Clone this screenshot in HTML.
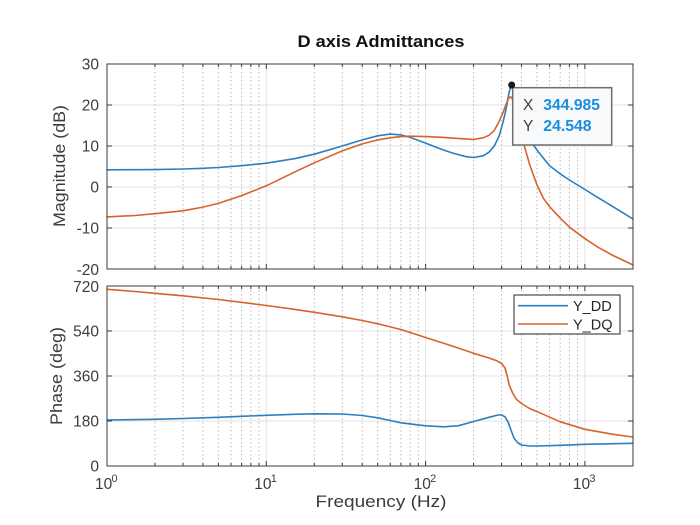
<!DOCTYPE html>
<html><head><meta charset="utf-8"><style>
html,body{margin:0;padding:0;background:#fff;}
svg{display:block;}
text{font-family:"Liberation Sans",Arial,sans-serif;}
</style></head><body>
<svg width="700" height="525" viewBox="0 0 700 525" xmlns="http://www.w3.org/2000/svg">
<rect width="700" height="525" fill="#fff"/>
<rect x="107" y="64" width="526" height="205" fill="#fff"/>
<rect x="107" y="286" width="526" height="180" fill="#fff"/>
<g stroke="#e2e2e2" stroke-width="1" fill="none">
<path d="M107 105H633M107 146H633M107 187H633M107 228H633"/>
<path d="M107 331H633M107 376H633M107 421H633"/>
<path d="M266.3 64V269M425.6 64V269M584.9 64V269M266.3 286V466M425.6 286V466M584.9 286V466"/>
</g>
<g stroke="#b9b9b9" stroke-width="1" stroke-dasharray="1.5 2.5" fill="none">
<path d="M154.95 64V269M183.01 64V269M202.91 64V269M218.35 64V269M230.96 64V269M241.62 64V269M250.86 64V269M259.01 64V269M314.25 64V269M342.31 64V269M362.21 64V269M377.65 64V269M390.26 64V269M400.92 64V269M410.16 64V269M418.31 64V269M473.55 64V269M501.61 64V269M521.51 64V269M536.95 64V269M549.56 64V269M560.22 64V269M569.46 64V269M577.61 64V269"/>
<path d="M154.95 286V466M183.01 286V466M202.91 286V466M218.35 286V466M230.96 286V466M241.62 286V466M250.86 286V466M259.01 286V466M314.25 286V466M342.31 286V466M362.21 286V466M377.65 286V466M390.26 286V466M400.92 286V466M410.16 286V466M418.31 286V466M473.55 286V466M501.61 286V466M521.51 286V466M536.95 286V466M549.56 286V466M560.22 286V466M569.46 286V466M577.61 286V466"/>
</g>
<g fill="none" stroke-width="1.6" stroke-linejoin="round" stroke-linecap="round">
<polyline stroke="#2b7fc1" points="107,169.8 135,169.7 155,169.6 183,169.0 202.9,168.3 218.3,167.5 241.6,165.7 266.3,163.2 294.3,158.7 314.3,154.2 342.3,146.0 362.2,139.9 377.7,135.8 390.3,134.1 400.9,134.9 410.1,137.4 425.6,143.1 443.8,150.1 453.7,153.4 466.2,156.7 473.6,157.5 483.2,155.8 489.0,152.2 494.3,146.0 499.2,135.8 503.2,121.4 506.1,109.1 508.6,94.8 510.3,87.8 511.3,86.5 512.7,89.4 518.0,109.1 524.9,127.6 532.7,143.9 537.0,150.1 543.5,158.3 549.6,165.7 560.3,173.9 569.5,180.0 577.6,185.0 585,189.5 597.5,197.3 613,206.7 623.6,213.2 632.9,219.0"/>
<polyline stroke="#d9622b" points="107,216.9 135,215.5 155,213.7 183,210.8 202.9,207.1 218.3,203.4 241.6,195.6 266.3,185.8 294.3,172.2 314.3,162.8 342.3,150.9 362.2,143.9 377.7,139.9 390.3,137.8 400.9,136.6 410.1,136.2 425.6,136.6 443.8,137.4 453.7,138.2 473.6,139.4 483.2,137.8 489.0,135.3 494.3,130.4 499.2,121.4 503.2,112.0 506.1,104.2 508.6,98.4 510.3,96.8 511.3,97.2 512.7,100.1 518.0,117.3 524.1,145.2 529.6,164.5 537.0,185.0 543.5,198.5 549.6,206.7 560.3,218.2 569.5,227.2 585,238.7 597.5,246.9 613,255.5 632.9,264.9"/>
<polyline stroke="#2b7fc1" points="107,420.0 155,419.3 183,418.5 218.3,417.3 241.6,416.3 266.3,415.3 294.3,414.3 314.3,413.8 342.3,414.0 362.2,415.5 377.7,417.8 390.3,420.5 400.9,422.8 425.6,425.8 443.8,426.8 458.1,425.8 473.6,421.5 489.0,417.3 498.1,415.0 501.6,415.0 505.0,416.8 508.2,422.3 511.3,431 514.2,438.5 518.0,443 521.5,445 529.6,446 537,446 560.3,445.3 585,444.3 632.9,443.3"/>
<polyline stroke="#d9622b" points="107,289.3 135,291.5 155,293.3 183,295.8 218.3,299.5 241.6,302.3 266.3,305.5 294.3,309.3 314.3,312.3 342.3,316.8 362.2,320.5 377.7,323.8 400.9,329.5 425.6,337.5 453.7,346.5 473.6,353.3 489.0,358 496.8,360.8 501.6,363.5 505.0,368 507.2,376 509.2,384.8 512.3,392.3 516.1,399 521.5,403.5 529.6,408.5 540.9,413.3 560.3,421.8 585,429.3 613,434.3 632.9,437"/>
</g>
<g stroke="#3a3a3a" stroke-width="1" fill="none">
<rect x="107" y="64" width="526" height="205"/>
<rect x="107" y="286" width="526" height="180"/>
<path d="M107 105h5M107 146h5M107 187h5M107 228h5M633 105h-5M633 146h-5M633 187h-5M633 228h-5"/>
<path d="M107 331h5M107 376h5M107 421h5M633 331h-5M633 376h-5M633 421h-5"/>
<path d="M266.3 269v-5M425.6 269v-5M584.9 269v-5M266.3 64v5M425.6 64v5M584.9 64v5M266.3 466v-5M425.6 466v-5M584.9 466v-5M266.3 286v5M425.6 286v5M584.9 286v5"/>
<path d="M154.95 269v-3M183.01 269v-3M202.91 269v-3M218.35 269v-3M230.96 269v-3M241.62 269v-3M250.86 269v-3M259.01 269v-3M314.25 269v-3M342.31 269v-3M362.21 269v-3M377.65 269v-3M390.26 269v-3M400.92 269v-3M410.16 269v-3M418.31 269v-3M473.55 269v-3M501.61 269v-3M521.51 269v-3M536.95 269v-3M549.56 269v-3M560.22 269v-3M569.46 269v-3M577.61 269v-3"/>
<path d="M154.95 64v3M183.01 64v3M202.91 64v3M218.35 64v3M230.96 64v3M241.62 64v3M250.86 64v3M259.01 64v3M314.25 64v3M342.31 64v3M362.21 64v3M377.65 64v3M390.26 64v3M400.92 64v3M410.16 64v3M418.31 64v3M473.55 64v3M501.61 64v3M521.51 64v3M536.95 64v3M549.56 64v3M560.22 64v3M569.46 64v3M577.61 64v3"/>
<path d="M154.95 466v-3M183.01 466v-3M202.91 466v-3M218.35 466v-3M230.96 466v-3M241.62 466v-3M250.86 466v-3M259.01 466v-3M314.25 466v-3M342.31 466v-3M362.21 466v-3M377.65 466v-3M390.26 466v-3M400.92 466v-3M410.16 466v-3M418.31 466v-3M473.55 466v-3M501.61 466v-3M521.51 466v-3M536.95 466v-3M549.56 466v-3M560.22 466v-3M569.46 466v-3M577.61 466v-3"/>
<path d="M154.95 286v3M183.01 286v3M202.91 286v3M218.35 286v3M230.96 286v3M241.62 286v3M250.86 286v3M259.01 286v3M314.25 286v3M342.31 286v3M362.21 286v3M377.65 286v3M390.26 286v3M400.92 286v3M410.16 286v3M418.31 286v3M473.55 286v3M501.61 286v3M521.51 286v3M536.95 286v3M549.56 286v3M560.22 286v3M569.46 286v3M577.61 286v3"/>
</g>
<g fill="#3c3c3c" font-size="15.5" text-anchor="end">
<text x="99" y="69.5">30</text>
<text x="99" y="110.5">20</text>
<text x="99" y="151.5">10</text>
<text x="99" y="192.5">0</text>
<text x="99" y="233.5">-10</text>
<text x="99" y="275">-20</text>
<text x="99" y="292">720</text>
<text x="99" y="336.5">540</text>
<text x="99" y="381.5">360</text>
<text x="99" y="426.5">180</text>
<text x="99" y="471.5">0</text>
</g>
<g fill="#3c3c3c">
<text x="95" y="489" font-size="15.5">10</text><text x="111.5" y="482" font-size="11">0</text>
<text x="254.3" y="489" font-size="15.5">10</text><text x="270.8" y="482" font-size="11">1</text>
<text x="413.6" y="489" font-size="15.5">10</text><text x="430.1" y="482" font-size="11">2</text>
<text x="572.9" y="489" font-size="15.5">10</text><text x="589.4" y="482" font-size="11">3</text>
</g>
<text x="381" y="47" font-size="17" font-weight="bold" fill="#111" text-anchor="middle" textLength="167" lengthAdjust="spacingAndGlyphs">D axis Admittances</text>
<text x="381" y="507" font-size="17" fill="#3c3c3c" text-anchor="middle" textLength="131" lengthAdjust="spacingAndGlyphs">Frequency  (Hz)</text>
<text transform="translate(65,166) rotate(-90)" font-size="17" fill="#3c3c3c" text-anchor="middle" textLength="122" lengthAdjust="spacingAndGlyphs">Magnitude (dB)</text>
<text transform="translate(62,376) rotate(-90)" font-size="17" fill="#3c3c3c" text-anchor="middle" textLength="98" lengthAdjust="spacingAndGlyphs">Phase (deg)</text>
<rect x="514" y="295" width="106" height="39" fill="#fff" stroke="#262626" stroke-width="1"/>
<line x1="518" y1="305.7" x2="568" y2="305.7" stroke="#2b7fc1" stroke-width="1.6"/>
<line x1="518" y1="324" x2="568" y2="324" stroke="#d9622b" stroke-width="1.6"/>
<text x="573" y="311" font-size="14.5" fill="#262626">Y_DD</text>
<text x="573" y="329.5" font-size="14.5" fill="#262626">Y_DQ</text>
<rect x="512.7" y="87.7" width="99" height="57.3" fill="#f8f9fb" stroke="#6e6e6e" stroke-width="1.5"/>
<text x="523" y="110" font-size="15.5" fill="#404040">X</text>
<text x="543.3" y="110" font-size="15.5" font-weight="bold" fill="#1a8fe0" textLength="56.7" lengthAdjust="spacingAndGlyphs">344.985</text>
<text x="523" y="131" font-size="15.5" fill="#404040">Y</text>
<text x="543.3" y="131" font-size="15.5" font-weight="bold" fill="#1a8fe0" textLength="48.3" lengthAdjust="spacingAndGlyphs">24.548</text>
<circle cx="511.7" cy="85" r="3.5" fill="#1a1a1a"/>
</svg>
</body></html>
